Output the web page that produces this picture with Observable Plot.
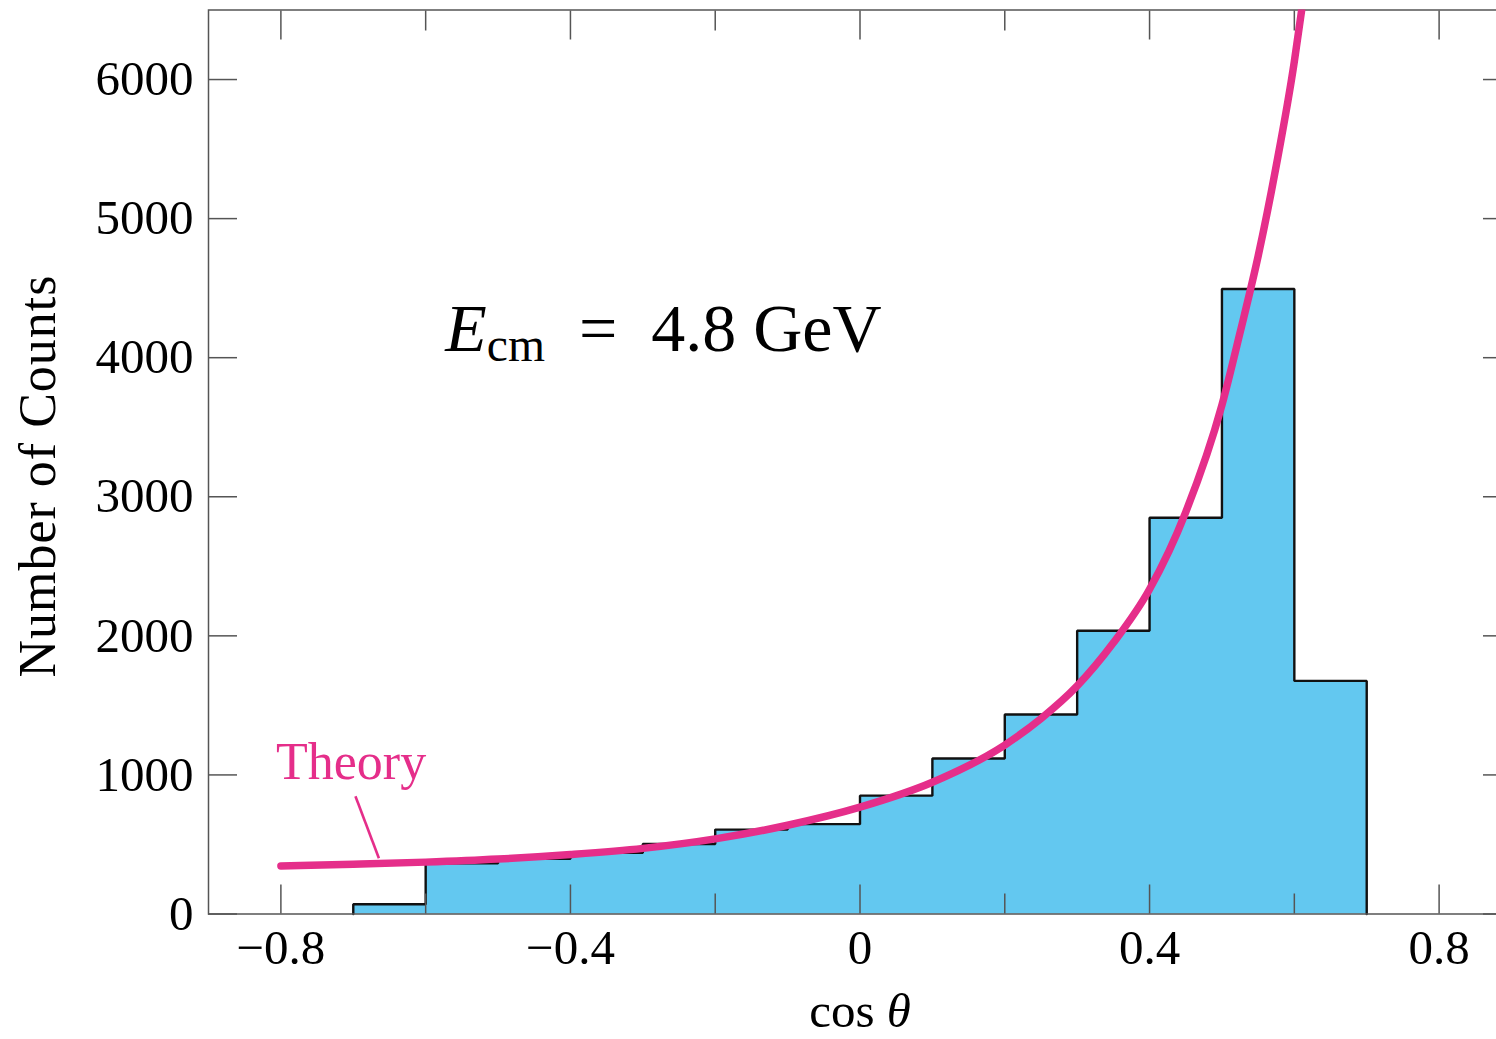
<!DOCTYPE html>
<html><head><meta charset="utf-8">
<script src="https://cdn.jsdelivr.net/npm/d3@7"></script>
<script src="https://cdn.jsdelivr.net/npm/@observablehq/plot@0.6"></script>
<style>
html,body{margin:0;padding:0;background:#fff;overflow:hidden;}
#chart svg{max-width:none !important;display:block;}
</style></head><body><div id="chart"></div>
<script>
// Histogram bins (cos θ) and counts
const binStarts = [-0.7, -0.6, -0.5, -0.4, -0.3, -0.2, -0.1, 0.0, 0.1, 0.2, 0.3, 0.4, 0.5, 0.6];
const binEnds   = [-0.6, -0.5, -0.4, -0.3, -0.2, -0.1, 0.0, 0.1, 0.2, 0.3, 0.4, 0.5, 0.6, 0.7];
const counts    = [70, 365, 397, 440, 503, 607, 646, 851, 1118, 1434, 2037, 2849, 4494, 1676];

// Theory curve
const theoryX = [-0.8, -0.7, -0.6, -0.5, -0.4, -0.3, -0.2, -0.1, 0.0, 0.1, 0.2, 0.25, 0.3, 0.35, 0.4, 0.45, 0.5, 0.525, 0.55, 0.575, 0.6, 0.61];
const theoryY = [345, 358, 373, 395, 428, 472, 540, 638, 768, 947, 1215, 1405, 1640, 1950, 2335, 2890, 3660, 4180, 4730, 5380, 6130, 6495];

// Ticks
const xMajorTicks = [-0.8, -0.4, 0, 0.4, 0.8];
const xMinorTicks = [-0.6, -0.2, 0.2, 0.6];
const yTicks = [0, 1000, 2000, 3000, 4000, 5000, 6000];

// Annotations
const theoryLabel = [{x: -0.703, y: 974, text: "Theory"}];
const theoryLeader = [{x1: -0.697, y1: 847, x2: -0.6646, y2: 401}];
const energyLabel = [{x: -0.573, y: 4051, text: "Ecm"}];

const xLabel = "cos θ";
const yLabel = "Number of Counts";

const BLUE = "#63c8f0";
const PINK = "#e52e8a";
const GRAY = "#555";
const FONT = "'Liberation Serif', 'DejaVu Serif', serif";

const bars = binStarts.map((x0, i) => ({x1: x0, x2: binEnds[i], y: counts[i]}));
const outline = [{x: binStarts[0], y: 0}];
bars.forEach(b => { outline.push({x: b.x1, y: b.y}); outline.push({x: b.x2, y: b.y}); });
outline.push({x: binEnds[binEnds.length - 1], y: 0});
const theory = theoryX.map((x, i) => ({x, y: theoryY[i]}));

const fmtX = d => d === 0 ? "0" : d3.format(".1f")(d).replace("-", "−");

const svg = Plot.plot({
  width: 1515,
  height: 1039,
  marginLeft: 208,
  marginRight: 4,
  marginTop: 9.5,
  marginBottom: 125.5,
  style: {fontFamily: FONT, fontSize: "49px", background: "#fff"},
  x: {domain: [-0.9, 0.9]},
  y: {domain: [0, 6500]},
  marks: [
    Plot.area(outline, {x1: "x", y1: 0, y2: "y", fill: BLUE}),
    Plot.line(outline, {x: "x", y: "y", stroke: "#111", strokeWidth: 2.4, strokeLinejoin: "miter"}),
    // inward ticks
    Plot.axisX(xMajorTicks, {anchor: "bottom", tickSize: -29, tickFormat: () => "", label: null, stroke: GRAY, strokeWidth: 1.5}),
    Plot.axisX(xMinorTicks, {anchor: "bottom", tickSize: -20, tickFormat: () => "", label: null, stroke: GRAY, strokeWidth: 1.5}),
    Plot.axisX(xMajorTicks, {anchor: "top", tickSize: -29, tickFormat: () => "", label: null, stroke: GRAY, strokeWidth: 1.5}),
    Plot.axisX(xMinorTicks, {anchor: "top", tickSize: -20, tickFormat: () => "", label: null, stroke: GRAY, strokeWidth: 1.5}),
    Plot.axisY(yTicks, {anchor: "left", tickSize: -29, tickFormat: () => "", label: null, stroke: GRAY, strokeWidth: 1.5}),
    Plot.axisY(yTicks, {anchor: "right", tickSize: -29, tickFormat: () => "", label: null, stroke: GRAY, strokeWidth: 1.5}),
    // tick labels
    Plot.axisX(xMajorTicks, {anchor: "bottom", tickSize: 0, tickPadding: 15, tickFormat: fmtX, label: null, fontSize: 49, fill: "#000"}),
    Plot.axisY(yTicks, {anchor: "left", tickSize: 0, tickPadding: 15, tickFormat: d => String(d), label: null, fontSize: 49, fill: "#000"}),
    Plot.frame({stroke: GRAY, strokeWidth: 1.5}),
    // theory curve
    Plot.line(theory, {x: "x", y: "y", stroke: PINK, strokeWidth: 7.5, curve: "monotone-x", clip: true}),
    Plot.link(theoryLeader, {x1: "x1", y1: "y1", x2: "x2", y2: "y2", stroke: PINK, strokeWidth: 2.6}),
    Plot.text(theoryLabel, {x: "x", y: "y", text: "text", fill: PINK, fontSize: 52, textAnchor: "middle", lineAnchor: "bottom"}),
    Plot.text(energyLabel, {x: "x", y: "y", text: "text", fill: "#000", fontSize: 68, textAnchor: "start", lineAnchor: "bottom"}),
    // axis titles
    Plot.text([xLabel], {frameAnchor: "bottom", dy: 113, fontSize: 49, fill: "#000", textAnchor: "middle", lineAnchor: "bottom"}),
    Plot.text([yLabel], {frameAnchor: "left", rotate: -90, dx: -170, dy: 14, fontSize: 52, fill: "#000", textAnchor: "middle", lineAnchor: "middle"})
  ]
});

// rich text: subscript / italics / spacing
d3.select(svg).selectAll("text").each(function() {
  const t = this.textContent;
  const sel = d3.select(this);
  if (t === "Ecm") {
    sel.text(null);
    sel.append("tspan").attr("font-style", "italic").text("E");
    sel.append("tspan").attr("font-size", "0.7em").attr("dy", "0.22em").text("cm");
    sel.append("tspan").attr("dy", "-0.154em").text("\u2002=\u20024.8 GeV");
  } else if (t === xLabel) {
    sel.text(null);
    sel.append("tspan").text("cos ");
    sel.append("tspan").attr("font-style", "italic").text("θ");
  } else if (t === yLabel) {
    sel.attr("letter-spacing", "1px");
  }
});

document.getElementById("chart").appendChild(svg);
</script>
</body></html>
